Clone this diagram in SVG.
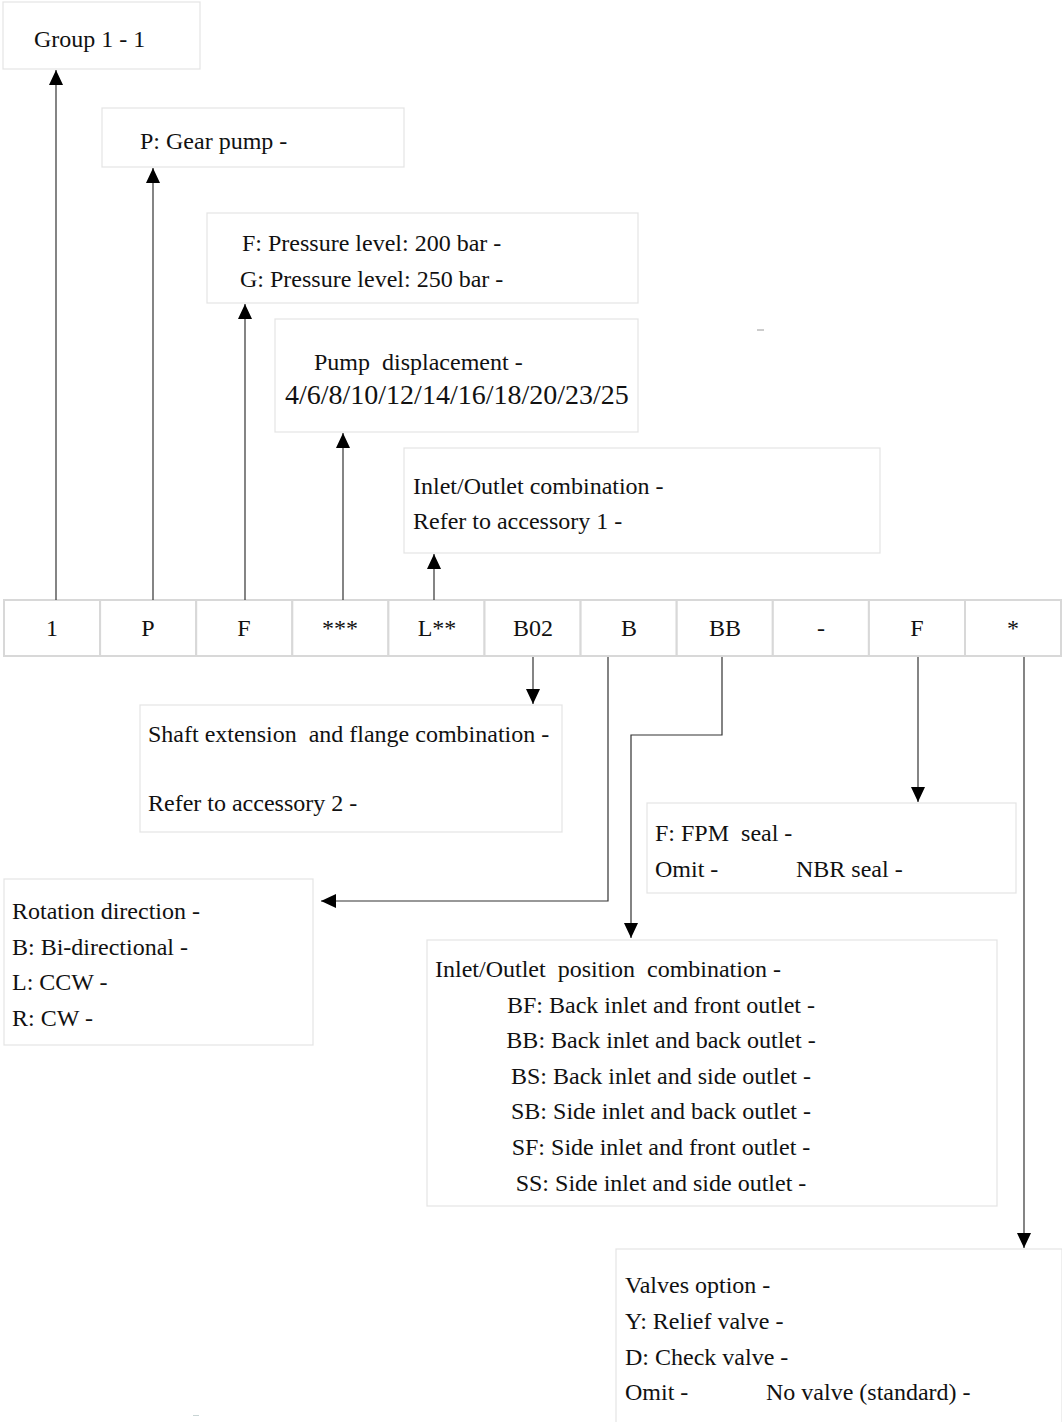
<svg xmlns="http://www.w3.org/2000/svg" width="1062" height="1422" viewBox="0 0 1062 1422">
<style>
.box{fill:#ffffff;stroke:#e4e4e4;stroke-width:1.2}
.cell{fill:#ffffff;stroke:#d8d8d8;stroke-width:2}
.t{font-family:"Liberation Serif","Times New Roman",serif;font-size:24px;fill:#111}
.c{text-anchor:middle}
.big{font-size:28px}
.con{fill:none;stroke:#333;stroke-width:1.2}
</style>
<defs>
<marker id="arr" viewBox="0 0 15 14" refX="15" refY="7" markerWidth="15" markerHeight="14" markerUnits="userSpaceOnUse" orient="auto">
<path d="M0,0 L15,7 L0,14 z" fill="#000"/>
</marker>
</defs>
<rect width="1062" height="1422" fill="#ffffff"/>

<g id="group">
<rect class="box" x="3" y="2" width="197" height="67"/>
<text class="t" x="34" y="47">Group 1 - 1</text>
</g>
<g id="pump">
<rect class="box" x="102" y="108" width="302" height="59"/>
<text class="t" x="140" y="149">P: Gear pump -</text>
</g>
<g id="pressure">
<rect class="box" x="207" y="213" width="431" height="90"/>
<text class="t" x="242" y="251">F: Pressure level: 200 bar -</text>
<text class="t" x="240" y="287">G: Pressure level: 250 bar -</text>
</g>
<g id="displacement">
<rect class="box" x="275" y="319" width="363" height="113"/>
<text class="t" x="314" y="370" xml:space="preserve">Pump  displacement -</text>
<text class="t big" x="285" y="404">4/6/8/10/12/14/16/18/20/23/25</text>
</g>
<g id="inletoutlet">
<rect class="box" x="404" y="448" width="476" height="105"/>
<text class="t" x="413" y="494">Inlet/Outlet combination -</text>
<text class="t" x="413" y="529">Refer to accessory 1 -</text>
</g>

<g id="coderow">
<rect class="cell" x="4" y="600" width="96.1" height="56"/>
<rect class="cell" x="100.1" y="600" width="96.1" height="56"/>
<rect class="cell" x="196.2" y="600" width="96.1" height="56"/>
<rect class="cell" x="292.3" y="600" width="96.1" height="56"/>
<rect class="cell" x="388.4" y="600" width="96.1" height="56"/>
<rect class="cell" x="484.5" y="600" width="96.1" height="56"/>
<rect class="cell" x="580.6" y="600" width="96.1" height="56"/>
<rect class="cell" x="676.7" y="600" width="96.1" height="56"/>
<rect class="cell" x="772.8" y="600" width="96.1" height="56"/>
<rect class="cell" x="868.9" y="600" width="96.1" height="56"/>
<rect class="cell" x="965" y="600" width="96" height="56"/>
<text class="t c" x="52" y="636">1</text>
<text class="t c" x="148" y="636">P</text>
<text class="t c" x="244" y="636">F</text>
<text class="t c" x="340" y="636">***</text>
<text class="t c" x="437" y="636">L**</text>
<text class="t c" x="533" y="636">B02</text>
<text class="t c" x="629" y="636">B</text>
<text class="t c" x="725" y="636">BB</text>
<text class="t c" x="821" y="636">-</text>
<text class="t c" x="917" y="636">F</text>
<text class="t c" x="1013" y="636">*</text>
</g>

<g id="shaft">
<rect class="box" x="140" y="705" width="422" height="127"/>
<text class="t" x="148" y="742" xml:space="preserve">Shaft extension  and flange combination -</text>
<text class="t" x="148" y="811">Refer to accessory 2 -</text>
</g>
<g id="seal">
<rect class="box" x="647" y="803" width="369" height="90"/>
<text class="t" x="655" y="841" xml:space="preserve">F: FPM  seal -</text>
<text class="t" x="655" y="877">Omit -</text>
<text class="t" x="796" y="877">NBR seal -</text>
</g>
<g id="rotation">
<rect class="box" x="4" y="879" width="309" height="166"/>
<text class="t" x="12" y="919">Rotation direction -</text>
<text class="t" x="12" y="955">B: Bi-directional -</text>
<text class="t" x="12" y="990">L: CCW -</text>
<text class="t" x="12" y="1026">R: CW -</text>
</g>
<g id="position">
<rect class="box" x="427" y="940" width="570" height="266"/>
<text class="t" x="435" y="977" xml:space="preserve">Inlet/Outlet  position  combination -</text>
<text class="t c" x="661" y="1013">BF: Back inlet and front outlet -</text>
<text class="t c" x="661" y="1048">BB: Back inlet and back outlet -</text>
<text class="t c" x="661" y="1084">BS: Back inlet and side outlet -</text>
<text class="t c" x="661" y="1119">SB: Side inlet and back outlet -</text>
<text class="t c" x="661" y="1155">SF: Side inlet and front outlet -</text>
<text class="t c" x="661" y="1191">SS: Side inlet and side outlet -</text>
</g>
<g id="valves">
<rect class="box" x="616" y="1249" width="446" height="180"/>
<text class="t" x="625" y="1293">Valves option -</text>
<text class="t" x="625" y="1329">Y: Relief valve -</text>
<text class="t" x="625" y="1365">D: Check valve -</text>
<text class="t" x="625" y="1400">Omit -</text>
<text class="t" x="766" y="1400">No valve (standard) -</text>
</g>

<g id="connectors">
<line class="con" x1="56" y1="600" x2="56" y2="70" marker-end="url(#arr)"/>
<line class="con" x1="153" y1="600" x2="153" y2="168" marker-end="url(#arr)"/>
<line class="con" x1="245" y1="600" x2="245" y2="304" marker-end="url(#arr)"/>
<line class="con" x1="343" y1="600" x2="343" y2="433" marker-end="url(#arr)"/>
<line class="con" x1="434" y1="600" x2="434" y2="554" marker-end="url(#arr)"/>
<line class="con" x1="533" y1="657" x2="533" y2="704" marker-end="url(#arr)"/>
<polyline class="con" points="608,657 608,901 321,901" marker-end="url(#arr)"/>
<polyline class="con" points="722,657 722,735 631,735 631,938" marker-end="url(#arr)"/>
<line class="con" x1="918" y1="657" x2="918" y2="802" marker-end="url(#arr)"/>
<line class="con" x1="1024" y1="657" x2="1024" y2="1248" marker-end="url(#arr)"/>
</g>

<line x1="757" y1="330" x2="764" y2="330" stroke="#9a9a9a" stroke-width="1"/>
<line x1="193" y1="1415.5" x2="199" y2="1415.5" stroke="#c8d4d4" stroke-width="1"/>
</svg>
